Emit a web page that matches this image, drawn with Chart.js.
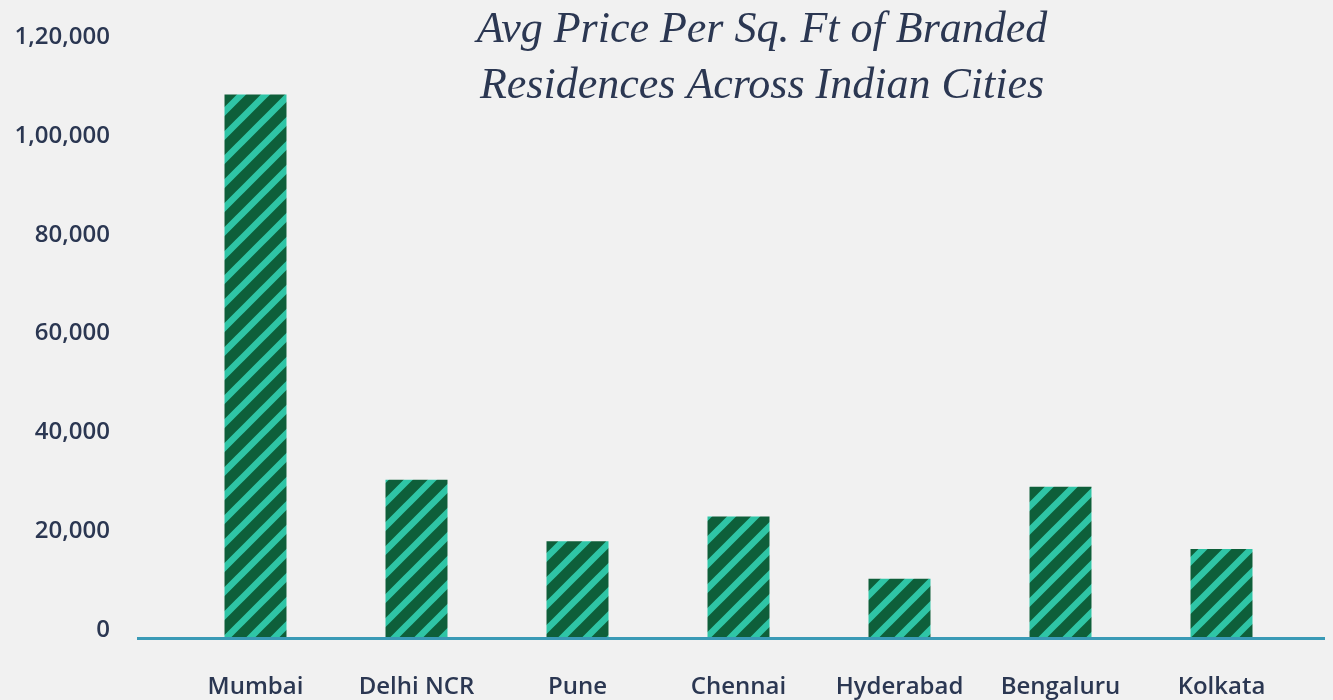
<!DOCTYPE html>
<html>
<head>
<meta charset="utf-8">
<script src="https://cdn.jsdelivr.net/npm/chart.js@4.4.0/dist/chart.umd.min.js"></script>
<style>
	html, body { margin: 0; padding: 0; background: #f1f1f1; }
	#wrap { width: 1333px; height: 700px; }
</style>
</head>
<body>
<div id="wrap"><canvas id="bar-chartcanvas-1" width="1333" height="700"></canvas></div>
<script>
var cities = ["Mumbai", "Delhi NCR", "Pune", "Chennai", "Hyderabad", "Bengaluru", "Kolkata"];
var avgPrice = [110000, 32000, 19600, 24600, 12000, 30600, 18000];
var yTicks = [0, 20000, 40000, 60000, 80000, 100000, 120000];
var yTickLabels = ["0", "20,000", "40,000", "60,000", "80,000", "1,00,000", "1,20,000"];
var titleLines = ["Avg Price Per Sq. Ft of Branded", "Residences Across Indian Cities"];

var textColor = "#2b3752";
var labelFont = { family: "'Open Sans', sans-serif", size: 24, weight: "600" };

// diagonal stripe fill for the bars
function stripePattern() {
	var c = document.createElement("canvas");
	c.width = 24;
	c.height = 24;
	var g = c.getContext("2d");
	g.fillStyle = "#0e5f3a";
	g.fillRect(0, 0, 24, 24);
	g.strokeStyle = "#2fc5a6";
	g.lineWidth = 6.5;
	g.beginPath();
	g.moveTo(-6, 30); g.lineTo(30, -6);
	g.moveTo(-18, 18); g.lineTo(18, -18);
	g.moveTo(6, 42); g.lineTo(42, 6);
	g.stroke();
	return g.createPattern(c, "repeat");
}

var baseline = {
	id: "baseline",
	afterDatasetsDraw: function (chart) {
		var ctx = chart.ctx;
		var area = chart.chartArea;
		var y0 = chart.scales.y.getPixelForValue(0);
		ctx.save();
		ctx.strokeStyle = "#3a9ab6";
		ctx.lineWidth = 3;
		ctx.beginPath();
		ctx.moveTo(area.left - 38, y0 + 0.5);
		ctx.lineTo(area.right + 23, y0 + 0.5);
		ctx.stroke();
		ctx.restore();
	}
};

var titleText = {
	id: "titleText",
	afterDraw: function (chart) {
		var ctx = chart.ctx;
		ctx.save();
		ctx.fillStyle = textColor;
		ctx.textAlign = "center";
		ctx.textBaseline = "alphabetic";
		ctx.font = "italic 44px 'Liberation Serif', serif";
		ctx.fillText(titleLines[0], 762, 42);
		ctx.fillText(titleLines[1], 762, 98);
		ctx.restore();
	}
};

var ctx1 = document.getElementById("bar-chartcanvas-1");

var data1 = {
	labels: cities,
	datasets: [
		{
			label: "Avg price per sq. ft",
			data: avgPrice,
			backgroundColor: stripePattern(),
			borderWidth: 0,
			categoryPercentage: 1,
			barPercentage: 0.385
		}
	]
};

var options1 = {
	responsive: false,
	animation: false,
	layout: {
		padding: { left: 10, right: 31, top: 45, bottom: 0 }
	},
	plugins: {
		legend: { display: false },
		title: { display: false },
		tooltip: { enabled: false }
	},
	scales: {
		x: {
			grid: { display: false, drawTicks: false },
			border: { display: false },
			afterFit: function (axis) {
				axis.height = 62;
				axis.paddingLeft = 0;
				axis.paddingRight = 0;
			},
			ticks: {
				color: textColor,
				font: labelFont,
				padding: 35,
				maxRotation: 0,
				autoSkip: false
			}
		},
		y: {
			min: 0,
			max: 120000,
			afterBuildTicks: function (axis) {
				axis.ticks = yTicks.map(function (v) { return { value: v }; });
			},
			afterFit: function (axis) {
				axis.width = 165;
				axis.paddingTop = 0;
				axis.paddingBottom = 0;
			},
			grid: { display: false, drawTicks: false },
			border: { display: false },
			ticks: {
				color: textColor,
				font: labelFont,
				padding: 65,
				labelOffset: -8,
				callback: function (value) {
					return yTickLabels[yTicks.indexOf(value)];
				}
			}
		}
	}
};

var chart1 = new Chart(ctx1, {
	type: "bar",
	data: data1,
	options: options1,
	plugins: [baseline, titleText]
});
</script>
</body>
</html>
